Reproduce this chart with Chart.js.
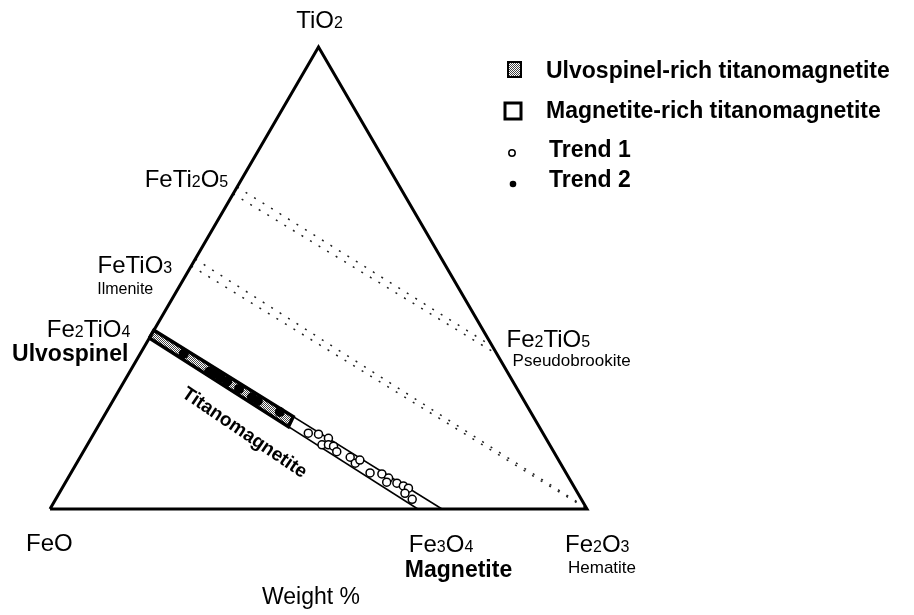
<!DOCTYPE html>
<html>
<head>
<meta charset="utf-8">
<title>FeO - TiO2 - Fe2O3</title>
<script src="https://cdn.jsdelivr.net/npm/chart.js@4.4.1/dist/chart.umd.min.js"></script>
<style>
    html, body { margin: 0; padding: 0; background: #fff; }
    #chart { display: block; }
</style>
</head>
<body>
<canvas id="chart" width="914" height="615"></canvas>
<script>
/* FeO - TiO2 - Fe2O3 ternary, weight %. Every point is [TiO2, Fe2O3], FeO is the rest */

const corners = { TiO2: [100, 0], FeO: [0, 0], Fe2O3: [0, 100] };
const ulvospinel = [37, 0];
const magnetite = [0, 68.5];
const ilmenite = [52.6, 0];
const feTi2O5 = [69, 0];
const pseudobrookite = [33.3, 66.7];

/* titanomagnetite strip and the ulvospinel-rich part of it */
const stripLower = [[37, 0], [0, 68.5]];
const stripUpper = [[38.7, 0], [0, 73]];
const ulvospinelRich = [[37, 0], [38.7, 0], [20.0, 35.3], [17.8, 35.5]];

/* dotted joins */
const joinsFeTi2O5 = [[[69.7, 0], [35.2, 64.8]], [[68.2, 0], [33.5, 66.5]]];
const joinsIlmenite = [[[54.1, 0], [0.9, 98.6]], [[52.6, 0], [0, 100]]];

const trend1 = [
    [16.4, 39.9], [16.2, 41.9], [15.3, 44.2], [13.9, 43.7], [13.9, 44.9],
    [13.6, 46.0], [12.4, 47.2], [11.2, 50.3], [9.9, 51.9], [10.6, 52.4],
    [7.8, 55.7], [7.6, 58.0], [6.7, 59.7], [5.8, 59.8], [5.6, 61.8],
    [5.0, 63.3], [4.5, 64.5], [3.4, 64.4], [2.1, 66.4]
];
const trend2 = [
    [33.6, 8.1], [29.7, 14.8], [29.3, 16.1], [28.4, 17.6], [27.6, 19.2],
    [26.0, 22.2], [24.2, 25.5], [23.4, 27.0], [21.0, 32.3]
];

const legendItems = [
    'Ulvospinel-rich titanomagnetite',
    'Magnetite-rich titanomagnetite',
    'Trend 1',
    'Trend 2'
];

const FONT = '"Liberation Sans", Arial, Helvetica, sans-serif';

/* ternary -> plot coordinates */
function toXY(p) {
    return { x: p[1] + p[0] / 2, y: p[0] };
}

function makeStipple() {
    const c = document.createElement('canvas');
    c.width = 4;
    c.height = 4;
    const g = c.getContext('2d');
    g.fillStyle = '#fff';
    g.fillRect(0, 0, 4, 4);
    g.fillStyle = '#444';
    [[0, 0], [2, 0], [1, 1], [3, 1], [0, 2], [2, 2], [1, 3], [3, 3]].forEach(d => g.fillRect(d[0], d[1], 1, 1));
    return g.createPattern(c, 'repeat');
}

const stipple = makeStipple();

function lineSet(points, extra) {
    return Object.assign({
        data: points.map(toXY),
        showLine: true,
        borderColor: '#000',
        borderWidth: 1.5,
        pointRadius: 0,
        fill: false,
        clip: false,
        tension: 0
    }, extra);
}

function drawChem(ctx, text, x, y, size, align) {
    const big = size + 'px ' + FONT;
    const small = Math.round(size * 0.66) + 'px ' + FONT;
    const runs = text.match(/\d+|\D+/g);
    let w = 0;
    runs.forEach(r => {
        ctx.font = /\d/.test(r) ? small : big;
        w += ctx.measureText(r).width;
    });
    let cx = align === 'right' ? x - w : (align === 'center' ? x - w / 2 : x);
    runs.forEach(r => {
        ctx.font = /\d/.test(r) ? small : big;
        ctx.fillText(r, cx, y);
        cx += ctx.measureText(r).width;
    });
}

function drawText(ctx, text, x, y, font, align) {
    ctx.font = font;
    ctx.textAlign = align;
    ctx.fillText(text, x, y);
    ctx.textAlign = 'left';
}

const labelsPlugin = {
    id: 'ternaryLabels',
    afterDatasetsDraw(chart) {
        const ctx = chart.ctx;
        const sx = chart.scales.x, sy = chart.scales.y;
        const at = p => {
            const q = toXY(p);
            return { x: sx.getPixelForValue(q.x), y: sy.getPixelForValue(q.y) };
        };
        ctx.save();
        ctx.fillStyle = '#000';
        ctx.textBaseline = 'alphabetic';

        let p = at(corners.TiO2);
        drawChem(ctx, 'TiO2', p.x + 1, p.y - 19, 24, 'center');

        p = at(feTi2O5);
        drawChem(ctx, 'FeTi2O5', p.x - 7, p.y - 3, 24, 'right');

        p = at(ilmenite);
        drawChem(ctx, 'FeTiO3', p.x - 19, p.y + 7, 24, 'right');
        drawText(ctx, 'Ilmenite', p.x - 38, p.y + 28, '16px ' + FONT, 'right');

        p = at(ulvospinel);
        drawChem(ctx, 'Fe2TiO4', p.x - 19, p.y - 1, 24, 'right');
        drawText(ctx, 'Ulvospinel', p.x - 21, p.y + 23, 'bold 23px ' + FONT, 'right');

        p = at(pseudobrookite);
        drawChem(ctx, 'Fe2TiO5', p.x + 9, p.y - 8, 24, 'left');
        drawText(ctx, 'Pseudobrookite', p.x + 15, p.y + 11, '17px ' + FONT, 'left');

        p = at(corners.FeO);
        drawChem(ctx, 'FeO', p.x - 24, p.y + 42, 24, 'left');

        p = at(magnetite);
        drawChem(ctx, 'Fe3O4', p.x - 9, p.y + 43, 24, 'left');
        drawText(ctx, 'Magnetite', p.x - 13, p.y + 68, 'bold 23px ' + FONT, 'left');

        p = at(corners.Fe2O3);
        drawChem(ctx, 'Fe2O3', p.x - 22, p.y + 43, 24, 'left');
        drawText(ctx, 'Hematite', p.x - 19, p.y + 64, '17px ' + FONT, 'left');

        drawText(ctx, 'Weight %', 262, 604, '23px ' + FONT, 'left');

        /* strip label, rotated along the join */
        const a = at(stripLower[0]), b = at(stripLower[1]);
        const ang = Math.atan2(b.y - a.y, b.x - a.x) + 0.03;
        ctx.save();
        ctx.translate(a.x + 95, a.y + 95);
        ctx.rotate(ang);
        ctx.font = 'bold 19px ' + FONT;
        ctx.textAlign = 'center';
        ctx.textBaseline = 'middle';
        ctx.fillText('Titanomagnetite', 0, 0);
        ctx.restore();

        /* legend */
        const lx = 546;
        const rows = [78, 118, 157, 187];
        ctx.fillStyle = stipple;
        ctx.fillRect(508, 62, 13, 15);
        ctx.strokeStyle = '#000';
        ctx.lineWidth = 2;
        ctx.strokeRect(508, 62, 13, 15);
        ctx.lineWidth = 3;
        ctx.strokeRect(505, 103, 16, 16);
        ctx.lineWidth = 1.5;
        ctx.fillStyle = '#fff';
        ctx.beginPath();
        ctx.arc(512, 153, 3.2, 0, Math.PI * 2);
        ctx.fill();
        ctx.stroke();
        ctx.fillStyle = '#000';
        ctx.beginPath();
        ctx.arc(513, 184, 3.3, 0, Math.PI * 2);
        ctx.fill();
        legendItems.forEach((t, i) => {
            drawText(ctx, t, lx + (i > 1 ? 3 : 0), rows[i], 'bold 23px ' + FONT, 'left');
        });
        ctx.restore();
    }
};

const dotted = { borderDash: [2, 8], borderWidth: 1.5, borderColor: '#222' };

const datasets = [
    {
        data: trend2.map(toXY),
        showLine: false,
        pointRadius: 5,
        pointBackgroundColor: '#000',
        pointBorderColor: '#000',
        pointBorderWidth: 0,
        clip: false,
        order: 0
    },
    {
        data: trend1.map(toXY),
        showLine: false,
        pointRadius: 4,
        pointBackgroundColor: '#fff',
        pointBorderColor: '#000',
        pointBorderWidth: 1.5,
        clip: false,
        order: 1
    },
    lineSet(ulvospinelRich.concat([ulvospinelRich[0]]), {
        borderWidth: 3.5,
        backgroundColor: stipple,
        fill: 'shape',
        borderJoinStyle: 'miter',
        order: 2
    }),
    lineSet(stripLower, { order: 3 }),
    lineSet(stripUpper, { order: 3 }),
    lineSet([corners.FeO, corners.Fe2O3, corners.TiO2, corners.FeO], {
        borderWidth: 3,
        borderJoinStyle: 'miter',
        order: 4
    })
];
joinsFeTi2O5.concat(joinsIlmenite).forEach(j => datasets.push(lineSet(j, Object.assign({ order: 5 }, dotted))));

new Chart(document.getElementById('chart'), {
    type: 'line',
    data: { datasets: datasets },
    options: {
        responsive: false,
        animation: false,
        events: [],
        layout: { padding: { left: 50, right: 327, top: 47, bottom: 106 } },
        scales: {
            x: { type: 'linear', min: 0, max: 100, display: false },
            y: { type: 'linear', min: 0, max: 100, display: false }
        },
        plugins: {
            legend: { display: false },
            tooltip: { enabled: false }
        }
    },
    plugins: [labelsPlugin]
});
</script>
</body>
</html>
